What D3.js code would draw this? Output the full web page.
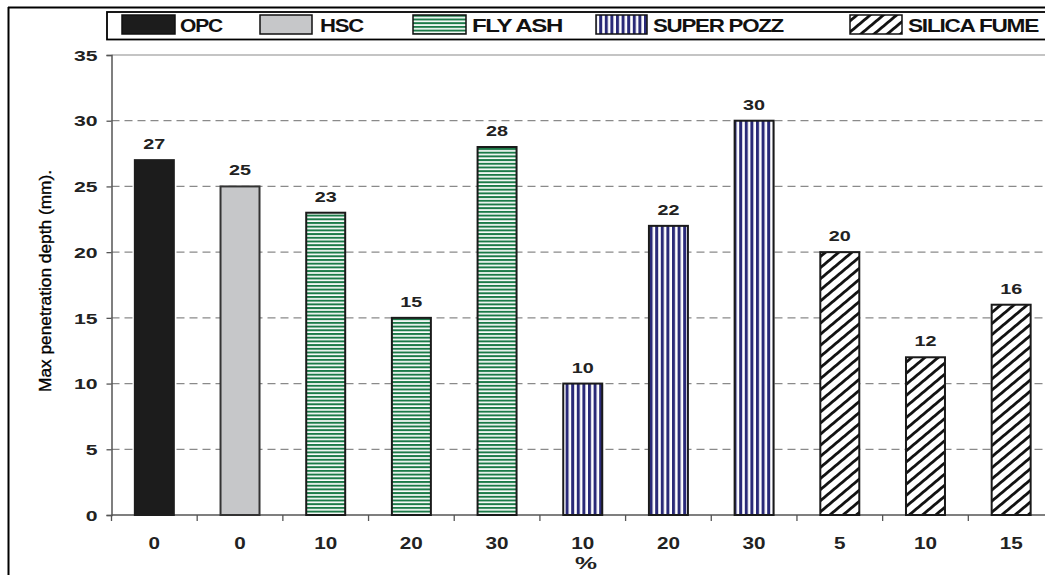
<!DOCTYPE html>
<html><head><meta charset="utf-8">
<script src="https://cdn.jsdelivr.net/npm/d3@7"></script>
<style>
html,body{margin:0;padding:0;background:#fff;}
svg{display:block;}
text{font-family:"Liberation Sans",Arial,sans-serif;}
</style></head>
<body>
<svg id="c" width="1045" height="575"></svg>
<script>
const categories = ["0","0","10","20","30","10","20","30","5","10","15"];
const groups = ["OPC","HSC","FLY ASH","FLY ASH","FLY ASH","SUPER POZZ","SUPER POZZ","SUPER POZZ","SILICA FUME","SILICA FUME","SILICA FUME"];
const values = [27,25,23,15,28,10,22,30,20,12,16];
const legendNames = ["OPC","HSC","FLY ASH","SUPER POZZ","SILICA FUME"];
const yTicks = [0,5,10,15,20,25,30,35];
const yTitle = "Max penetration depth (mm).";
const xTitle = "%";

(function(){
const svg = d3.select("#c");
const defs = svg.append("defs");

// patterns
const pg = defs.append("pattern").attr("id","pFly").attr("patternUnits","userSpaceOnUse").attr("width",8).attr("height",3.7);
pg.append("rect").attr("width",8).attr("height",3.7).attr("fill","#fff");
pg.append("rect").attr("y",0).attr("width",8).attr("height",2).attr("fill","#1b7a48");
const pv = defs.append("pattern").attr("id","pPozz").attr("patternUnits","userSpaceOnUse").attr("width",5.6).attr("height",8);
pv.append("rect").attr("width",5.6).attr("height",8).attr("fill","#fff");
pv.append("rect").attr("x",0).attr("width",3).attr("height",8).attr("fill","#2a2a78");
const pd = defs.append("pattern").attr("id","pSil").attr("patternUnits","userSpaceOnUse").attr("width",8.5).attr("height",8.5).attr("patternTransform","rotate(50)");
pd.append("rect").attr("width",8.5).attr("height",8.5).attr("fill","#fff");
pd.append("rect").attr("x",0).attr("width",2.8).attr("height",8.5).attr("fill","#111");

const fillOf = {"OPC":"#1c1c1c","HSC":"#c6c7c9","FLY ASH":"url(#pFly)","SUPER POZZ":"url(#pPozz)","SILICA FUME":"url(#pSil)"};
const strokeOf = {"OPC":"#1c1c1c","HSC":"#333","FLY ASH":"#1a1a1a","SUPER POZZ":"#1a1a1a","SILICA FUME":"#1a1a1a"};

const pL = 111.5, pR = 1054, pT = 55, pB = 515;
const x = d3.scaleBand().domain(d3.range(values.length)).range([pL,pR]).paddingInner(0.545).paddingOuter(0.2725);
const y = d3.scaleLinear().domain([0,35]).range([pB,pT]);
const step = x.step();

// outer frame
svg.append("line").attr("x1",8).attr("x2",1045).attr("y1",7.5).attr("y2",7.5).attr("stroke","#000").attr("stroke-width",2);
svg.append("line").attr("x1",8.5).attr("x2",8.5).attr("y1",7).attr("y2",575).attr("stroke","#000").attr("stroke-width",2);

// plot top border
svg.append("line").attr("x1",pL).attr("x2",1045).attr("y1",pT).attr("y2",pT).attr("stroke","#8a8a8a").attr("stroke-width",1.2);

// gridlines
svg.append("g").selectAll("line").data(yTicks.filter(t=>t>0&&t<35)).join("line")
  .attr("x1",pL).attr("x2",1045).attr("y1",d=>y(d)).attr("y2",d=>y(d))
  .attr("stroke","#8a8a8a").attr("stroke-width",1.2).attr("stroke-dasharray","8,5");

// y axis
const yAxis = d3.axisLeft(y).tickValues(yTicks).tickSize(5).tickPadding(9).tickFormat(d3.format("d"));
const gy = svg.append("g").attr("transform",`translate(${pL},0)`).call(yAxis)
  .attr("font-size",null).attr("font-family",null);
gy.select(".domain").attr("stroke","#555").attr("stroke-width",1.5);
gy.selectAll(".tick line").attr("stroke","#555").attr("stroke-width",1.3);
gy.selectAll(".tick text").style("font-size","14.5px").style("font-weight","bold").attr("fill","#222")
  .attr("dy","0.36em").attr("x",-14)
  .attr("textLength",d=>String(d).length*11.8).attr("lengthAdjust","spacingAndGlyphs");

// x axis line and ticks at band boundaries
svg.append("line").attr("x1",pL).attr("x2",1045).attr("y1",pB).attr("y2",pB).attr("stroke","#555").attr("stroke-width",1.5);
svg.append("g").selectAll("line").data(d3.range(values.length+1)).join("line")
  .attr("x1",i=>pL+i*step).attr("x2",i=>pL+i*step).attr("y1",pB).attr("y2",pB+6)
  .attr("stroke","#555").attr("stroke-width",1.3);

// bars
svg.append("g").selectAll("rect").data(values).join("rect")
  .attr("x",(d,i)=>x(i)).attr("width",x.bandwidth())
  .attr("y",d=>y(d)).attr("height",d=>y(0)-y(d))
  .attr("fill",(d,i)=>fillOf[groups[i]]).attr("stroke",(d,i)=>strokeOf[groups[i]]).attr("stroke-width",2);

// value labels
svg.append("g").selectAll("text").data(values).join("text")
  .attr("x",(d,i)=>x(i)+x.bandwidth()/2).attr("y",d=>y(d)-11)
  .attr("text-anchor","middle").style("font-size","14.5px").style("font-weight","bold").attr("fill","#222")
  .attr("textLength",d=>String(d).length*11).attr("lengthAdjust","spacingAndGlyphs")
  .text(d=>d);

// x tick labels
svg.append("g").selectAll("text").data(categories).join("text")
  .attr("x",(d,i)=>x(i)+x.bandwidth()/2).attr("y",549)
  .attr("text-anchor","middle").style("font-size","17px").style("font-weight","bold").attr("fill","#222")
  .attr("textLength",d=>d.length*11.5).attr("lengthAdjust","spacingAndGlyphs")
  .text(d=>d);

// x title
svg.append("text").attr("x",586).attr("y",569).attr("text-anchor","middle")
  .style("font-size","17px").style("font-weight","bold").attr("fill","#222")
  .attr("textLength",22).attr("lengthAdjust","spacingAndGlyphs").text(xTitle);

// y title
svg.append("text").attr("transform","translate(51,281) rotate(-90)").attr("text-anchor","middle")
  .style("font-size","17px").attr("fill","#000").attr("textLength",222).attr("lengthAdjust","spacingAndGlyphs")
  .attr("stroke","#000").attr("stroke-width",0.35)
  .text(yTitle);

// legend
svg.append("rect").attr("x",107).attr("y",12).attr("width",960).attr("height",27.5)
  .attr("fill","#fff").attr("stroke","#000").attr("stroke-width",1.8);
const swX = [122,260,413,596,850];
const swW = [53,52,53,51,52];
const txX = [180,320,472,653,908];
const txW = [42,43,90,130,130];
legendNames.forEach((n,i)=>{
  svg.append("rect").attr("x",swX[i]).attr("y",15).attr("width",swW[i]).attr("height",19)
    .attr("fill",fillOf[n]).attr("stroke","#111").attr("stroke-width",1.5);
  svg.append("text").attr("x",txX[i]).attr("y",32).style("font-size","18px").style("font-weight","bold")
    .style("letter-spacing","-1px")
    .attr("fill","#111").attr("textLength",txW[i]).attr("lengthAdjust","spacingAndGlyphs")
    .text(n);
});
})();
</script>
</body></html>
